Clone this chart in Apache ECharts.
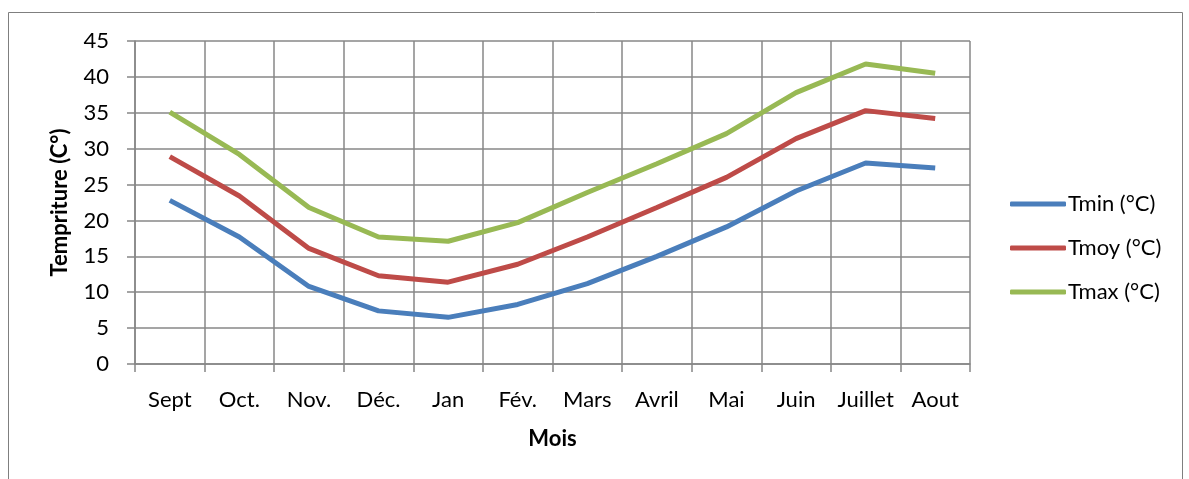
<!DOCTYPE html>
<html>
<head>
<meta charset="utf-8">
<script src="https://cdn.jsdelivr.net/npm/echarts@6/dist/echarts.min.js"></script>
<style>
  html, body { margin: 0; padding: 0; background: #fff; }
  #chart { width: 1189px; height: 479px; }
</style>
</head>
<body>
<div id="chart"></div>
<script>
var months = ['Sept', 'Oct.', 'Nov.', 'Déc.', 'Jan', 'Fév.', 'Mars', 'Avril', 'Mai', 'Juin', 'Juillet', 'Aout'];
var tmin = [22.8, 17.7, 10.8, 7.4, 6.5, 8.3, 11.2, 15.0, 19.1, 24.1, 28.0, 27.3];
var tmoy = [28.9, 23.4, 16.1, 12.3, 11.4, 13.9, 17.7, 21.8, 26.0, 31.4, 35.3, 34.2];
var tmax = [35.1, 29.2, 21.8, 17.7, 17.1, 19.7, 23.9, 27.9, 32.1, 37.8, 41.8, 40.5];

var font = 'Lato, "Open Sans", sans-serif';
var gridCol = '#878787';

var chart = echarts.init(document.getElementById('chart'));

function line(name, data, color) {
  return {
    name: name,
    type: 'line',
    data: data,
    symbol: 'none',
    lineStyle: { width: 5, color: color },
    itemStyle: { color: color }
  };
}

var option = {
  animation: false,
  graphic: [{
    type: 'rect',
    shape: { x: 8.5, y: 12.5, width: 1174, height: 480 },
    style: { fill: 'none', stroke: '#7f7f7f', lineWidth: 1 }
  }],
  grid: { left: 135, right: 219, top: 41, bottom: 115 },
  legend: {
    orient: 'vertical',
    left: 1005,
    top: 188,
    itemGap: 22,
    itemWidth: 56,
    itemHeight: 5,
    icon: 'roundRect',
    textStyle: { fontFamily: font, fontSize: 22, color: '#000', padding: [0, 0, 0, -3] },
    data: ['Tmin (°C)', 'Tmoy (°C)', 'Tmax (°C)']
  },
  xAxis: {
    type: 'category',
    data: months,
    boundaryGap: true,
    name: 'Mois',
    nameLocation: 'middle',
    nameGap: 64,
    nameTextStyle: { fontFamily: font, fontSize: 22, fontWeight: 'bold', color: '#000' },
    axisLine: { lineStyle: { color: gridCol, width: 1.5 } },
    axisTick: { show: true, interval: 0, length: 8, lineStyle: { color: gridCol, width: 1.5 } },
    axisLabel: { interval: 0, hideOverlap: false, fontFamily: font, fontSize: 22, color: '#000', margin: 25 },
    splitLine: { show: true, interval: 0, lineStyle: { color: gridCol, width: 1.5 } }
  },
  yAxis: {
    type: 'value',
    min: 0,
    max: 45,
    interval: 5,
    name: 'Tempriture (C°)',
    nameLocation: 'middle',
    nameGap: 64,
    nameTextStyle: { fontFamily: font, fontSize: 22, fontWeight: 'bold', color: '#000' },
    axisLine: { show: true, lineStyle: { color: gridCol, width: 1.5 } },
    axisTick: { show: true, length: 8, lineStyle: { color: gridCol, width: 1.5 } },
    axisLabel: { fontFamily: font, fontSize: 22, color: '#000', margin: 26 },
    splitLine: { show: true, lineStyle: { color: gridCol, width: 1.5 } }
  },
  series: [
    line('Tmin (°C)', tmin, '#4a7ebb'),
    line('Tmoy (°C)', tmoy, '#be4b48'),
    line('Tmax (°C)', tmax, '#98b954')
  ]
};

chart.setOption(option);
</script>
</body>
</html>
